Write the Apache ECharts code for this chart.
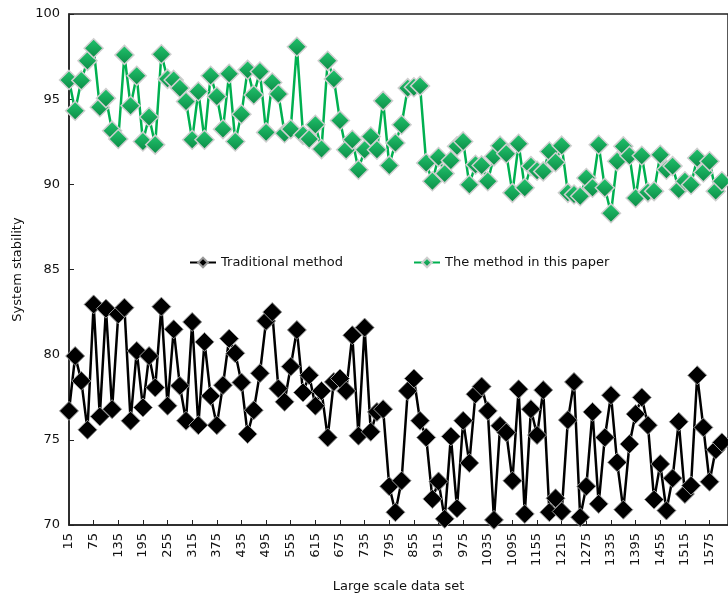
<!DOCTYPE html>
<html>
<head>
<meta charset="utf-8">
<script src="https://cdn.jsdelivr.net/npm/echarts@6/dist/echarts.min.js"></script>
<style>
  html, body { margin: 0; padding: 0; background: #fff; }
  #main { width: 728px; height: 598px; }
</style>
</head>
<body>
<div id="main"></div>
<script>
// x categories (data set size), step 15
var dataSizes = [15, 30, 45, 60, 75, 90, 105, 120, 135, 150, 165, 180, 195, 210, 225, 240,
  255, 270, 285, 300, 315, 330, 345, 360, 375, 390, 405, 420, 435, 450, 465, 480, 495, 510,
  525, 540, 555, 570, 585, 600, 615, 630, 645, 660, 675, 690, 705, 720, 735, 750, 765, 780,
  795, 810, 825, 840, 855, 870, 885, 900, 915, 930, 945, 960, 975, 990, 1005, 1020, 1035,
  1050, 1065, 1080, 1095, 1110, 1125, 1140, 1155, 1170, 1185, 1200, 1215, 1230, 1245, 1260,
  1275, 1290, 1305, 1320, 1335, 1350, 1365, 1380, 1395, 1410, 1425, 1440, 1455, 1470, 1485,
  1500, 1515, 1530, 1545, 1560, 1575, 1590, 1605, 1620];

var traditional = [76.7, 79.92, 78.46, 75.59, 82.95, 76.37, 82.7, 76.8, 82.37, 82.76,
  76.12, 80.22, 76.9, 79.92, 78.07, 82.82, 77.0, 81.49, 78.17, 76.12,
  81.92, 75.86, 80.75, 77.58, 75.86, 78.21, 80.94, 80.08, 78.37, 75.34,
  76.74, 78.91, 81.98, 82.5, 78.01, 77.23, 79.3, 81.45, 77.78, 78.79,
  77.0, 77.87, 75.14, 78.4, 78.6, 77.87, 81.14, 75.24, 81.59, 75.47,
  76.64, 76.8, 72.27, 70.75, 72.6, 77.87, 78.6, 76.12, 75.14, 71.53,
  72.56, 70.36, 75.2, 70.98, 76.12, 73.64, 77.68, 78.13, 76.7, 70.3,
  75.82, 75.43, 72.6, 77.97, 70.65, 76.8, 75.28, 77.92, 70.75, 71.57,
  70.79, 76.16, 78.4, 70.46, 72.27, 76.64, 71.24, 75.14, 77.62, 73.68,
  70.9, 74.75, 76.51, 77.49, 75.86, 71.49, 73.58, 70.85, 72.74, 76.06,
  71.82, 72.31, 78.79, 75.73, 72.54, 74.42, 74.85, null];

var paperMethod = [96.13, 94.32, 96.1, 97.25, 97.99, 94.53, 95.06, 93.15, 92.66, 97.6,
  94.61, 96.37, 92.52, 93.95, 92.33, 97.64, 96.19, 96.13, 95.65, 94.86,
  92.62, 95.45, 92.62, 96.37, 95.16, 93.24, 96.49, 92.52, 94.12, 96.72,
  95.25, 96.62, 93.05, 95.98, 95.3, 93.0, 93.24, 98.08, 92.9, 92.66,
  93.5, 92.07, 97.25, 96.19, 93.75, 92.03, 92.62, 90.86, 92.03, 92.81,
  92.03, 94.9, 91.11, 92.43, 93.5, 95.65, 95.7, 95.78, 91.25, 90.18,
  91.6, 90.63, 91.4, 92.23, 92.52, 89.98, 91.15, 91.11, 90.18, 91.64,
  92.27, 91.8, 89.5, 92.38, 89.8, 91.07, 90.8, 90.76, 91.93, 91.3,
  92.27, 89.5, 89.4, 89.3, 90.37, 89.8, 92.32, 89.8, 88.3, 91.35,
  92.23, 91.68, 89.2, 91.68, 89.53, 89.6, 91.74, 90.86, 91.07, 89.7,
  90.18, 89.98, 91.55, 90.7, 91.35, 89.6, 90.18, null];

var myChart = echarts.init(document.getElementById('main'));
var font = 'DejaVu Sans';
var option = {
  backgroundColor: '#fff',
  animation: false,
  textStyle: { fontFamily: font },
  legend: {
    data: ['Traditional method', 'The method in this paper'],
    left: 184,
    top: 251,
    itemGap: 70,
    itemWidth: 26,
    itemHeight: 12,
    textStyle: { fontFamily: font, fontSize: 13, color: '#111' }
  },
  grid: {
    left: 69,
    top: 14,
    width: 661,
    height: 512,
    show: true,
    borderColor: '#222',
    borderWidth: 1.5
  },
  xAxis: {
    type: 'category',
    boundaryGap: false,
    data: dataSizes,
    name: 'Large scale data set',
    nameLocation: 'middle',
    nameGap: 55,
    nameTextStyle: { fontFamily: font, fontSize: 13, color: '#111' },
    axisLine: { lineStyle: { color: '#222', width: 1.5 } },
    axisTick: { inside: true, interval: 3, length: 5, lineStyle: { color: '#222' } },
    axisLabel: {
      interval: 3,
      rotate: 90,
      margin: 8,
      fontFamily: font,
      fontSize: 13,
      color: '#111'
    },
    splitLine: { show: false }
  },
  yAxis: {
    type: 'value',
    min: 70,
    max: 100,
    interval: 5,
    name: 'System stability',
    nameLocation: 'middle',
    nameGap: 45,
    nameTextStyle: { fontFamily: font, fontSize: 13, color: '#111' },
    axisLine: { show: true, lineStyle: { color: '#222', width: 1.5 } },
    axisTick: { show: true, inside: true, length: 5, lineStyle: { color: '#222' } },
    axisLabel: { fontFamily: font, fontSize: 13, color: '#111', margin: 9 },
    splitLine: { show: false }
  },
  series: [
    {
      name: 'Traditional method',
      type: 'line',
      data: traditional,
      symbol: 'diamond',
      symbolSize: 19,
      showAllSymbol: true,
      lineStyle: { color: '#000', width: 2.5 },
      itemStyle: { color: '#000', borderColor: '#999', borderWidth: 1 }
    },
    {
      name: 'The method in this paper',
      type: 'line',
      data: paperMethod,
      symbol: 'diamond',
      symbolSize: 19,
      showAllSymbol: true,
      lineStyle: { color: '#00b050', width: 2.5 },
      itemStyle: {
        color: new echarts.graphic.LinearGradient(0, 0, 0, 1, [
          { offset: 0, color: '#22c56e' },
          { offset: 1, color: '#0b8a45' }
        ]),
        borderColor: '#cfcfcf',
        borderWidth: 1.5
      }
    }
  ]
};
myChart.setOption(option);
</script>
</body>
</html>
